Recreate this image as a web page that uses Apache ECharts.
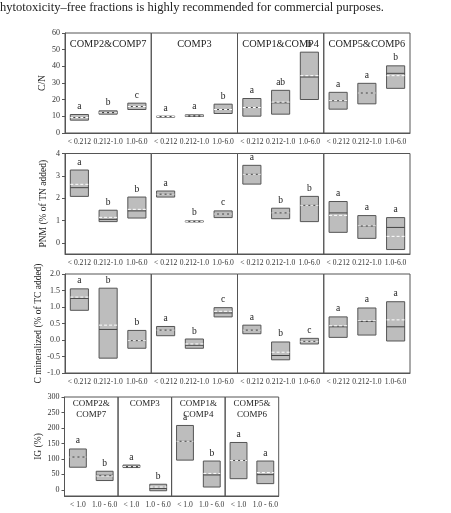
<!DOCTYPE html>
<html>
<head>
<meta charset="utf-8">
<script src="https://cdn.jsdelivr.net/npm/echarts@6/dist/echarts.min.js"></script>
<style>
  html, body { margin: 0; padding: 0; background: #fff; }
  #chart { width: 451px; height: 513px; }
</style>
</head>
<body>
<div id="chart"></div>
<script>
// categories
const groups = ['COMP2&COMP7', 'COMP3', 'COMP1&COMP4', 'COMP5&COMP6'];
const groupsIG = ['COMP2&\nCOMP7', 'COMP3', 'COMP1&\nCOMP4', 'COMP5&\nCOMP6'];
const fractions = ['< 0.212', '0.212-1.0', '1.0-6.0'];
const fractionsIG = ['< 1.0', '1.0 - 6.0'];

// C/N  (per group: lower edge, upper edge, median, mean, letters)
const cnQ1 = [[7.7, 11.3, 14.1], [9.6, 9.9, 11.7], [10.1, 11.3, 20.1], [14.3, 17.5, 26.8]];
const cnQ3 = [[11.1, 13.3, 17.9], [10.1, 10.9, 17.3], [20.7, 25.6, 48.5], [24.4, 29.8, 40.3]];
const cnMed = [[9.3, 12.3, 15.9], [9.9, 10.3, 14.1], [15.3, 18.1, 33.6], [19.3, 24.0, 35.8]];
const cnMean = [[9.3, 12.2, 15.9], [9.9, 10.3, 14.1], [15.3, 18.5, 34.4], [19.4, 24.0, 34.4]];
const cnLet = [['a', 'b', 'c'], ['a', 'a', 'b'], ['a', 'ab', 'b'], ['a', 'a', 'b']];

// PNM (% of TN added)
const pnmQ1 = [[2.08, 0.95, 1.11], [2.05, 0.94, 1.13], [2.63, 1.08, 0.95], [0.47, 0.20, -0.30]];
const pnmQ3 = [[3.26, 1.46, 2.05], [2.32, 0.98, 1.43], [3.47, 1.55, 2.08], [1.85, 1.22, 1.13]];
const pnmMed = [[2.47, 1.05, 1.43], [2.18, 0.96, 1.29], [3.07, 1.34, 1.68], [1.34, 0.75, 0.69]];
const pnmMean = [[2.62, 1.14, 1.50], [2.18, 0.96, 1.29], [3.07, 1.34, 1.68], [1.23, 0.76, 0.29]];
const pnmLet = [['a', 'b', 'b'], ['a', 'b', 'c'], ['a', 'b', 'b'], ['a', 'a', 'a']];

// C mineralized (% of TC added)
const cmQ1 = [[0.90, -0.55, -0.25], [0.13, -0.25, 0.70], [0.19, -0.60, -0.12], [0.08, 0.15, -0.03]];
const cmQ3 = [[1.55, 1.57, 0.29], [0.41, 0.03, 0.98], [0.45, -0.06, 0.05], [0.70, 0.97, 1.16]];
const cmMed = [[1.26, 0.32, -0.02], [0.30, -0.16, 0.82], [0.30, -0.47, -0.04], [0.40, 0.56, 0.40]];
const cmMean = [[1.30, 0.45, -0.02], [0.30, -0.12, 0.87], [0.30, -0.37, -0.04], [0.43, 0.58, 0.61]];
const cmLet = [['a', 'b', 'b'], ['a', 'b', 'c'], ['a', 'b', 'c'], ['a', 'a', 'a']];

// IG (%)
const igQ1 = [[73, 30], [72, -3], [96, 9], [36, 20]];
const igQ3 = [[132, 60], [80, 18], [208, 93], [153, 93]];
const igMed = [[106, 47], [75, 4], [157, 48], [95, 49]];
const igMean = [[106, 45], [75, 9], [157, 53], [95, 56]];
const igLet = [['a', 'b'], ['a', 'b'], ['a', 'b'], ['a', 'a']];

// tick labels
const cnTicks = [0, 10, 20, 30, 40, 50, 60];
const pnmTicks = [0, 1, 2, 3, 4];
const cmTicks = [-1.0, -0.5, 0.0, 0.5, 1.0, 1.5, 2.0];
const igTicks = [0, 50, 100, 150, 200, 250, 300];

const serif = '"Liberation Serif", "DejaVu Serif", serif';
const dark = '#555';

// layout of each row of panels
const rows = [
  { q1: cnQ1, q3: cnQ3, med: cnMed, mean: cnMean, let: cnLet, cats: fractions, ticks: cnTicks,
    min: 0, max: 60, name: 'C/N', gap: 18, top: 33, height: 100, left: 65, w: 86.25, dec: 0 },
  { q1: pnmQ1, q3: pnmQ3, med: pnmMed, mean: pnmMean, let: pnmLet, cats: fractions, ticks: pnmTicks,
    min: -0.5, max: 4, name: 'PNM (% of TN added)', gap: 17, top: 153.5, height: 100.5, left: 65, w: 86.25, dec: 0 },
  { q1: cmQ1, q3: cmQ3, med: cmMed, mean: cmMean, let: cmLet, cats: fractions, ticks: cmTicks,
    min: -1, max: 2, name: 'C mineralized (% of TC added)', gap: 17, top: 274, height: 99, left: 65, w: 86.25, dec: 1 },
  { q1: igQ1, q3: igQ3, med: igMed, mean: igMean, let: igLet, cats: fractionsIG, ticks: igTicks,
    min: -20, max: 300, name: 'IG (%)', gap: 20, top: 397, height: 99, left: 64.5, w: 53.55, dec: 0 }
];

function boxRenderer(letters) {
  return function (params, api) {
    const x = api.value(0);
    const lo = api.coord([x, api.value(1)]);
    const hi = api.coord([x, api.value(2)]);
    const md = api.coord([x, api.value(3)]);
    const mn = api.coord([x, api.value(4)]);
    const w = api.size([1, 0])[0] * 0.63;
    const cx = lo[0];
    return {
      type: 'group',
      children: [
        { type: 'rect', shape: { x: cx - w / 2, y: hi[1], width: w, height: Math.max(lo[1] - hi[1], 1) },
          style: { fill: '#bdbdbd', stroke: dark, lineWidth: 1 } },
        { type: 'line', shape: { x1: cx - w / 2, y1: md[1], x2: cx + w / 2, y2: md[1] },
          style: { stroke: '#444', lineWidth: 1 } },
        { type: 'line', shape: { x1: cx - w / 2, y1: mn[1], x2: cx + w / 2, y2: mn[1] },
          style: { stroke: '#fff', lineWidth: 1, lineDash: [3, 2] } },
        { type: 'text', style: { text: letters[params.dataIndex], x: cx, y: hi[1] - 3,
            align: 'center', verticalAlign: 'bottom', fontSize: 9.5, fontFamily: serif, fill: '#222' } }
      ]
    };
  };
}

const grid = [], xAxis = [], yAxis = [], series = [], texts = [];
rows.forEach((r, ri) => {
  for (let g = 0; g < 4; g++) {
    const idx = grid.length;
    grid.push({ left: r.left + g * r.w, top: r.top, width: r.w, height: r.height,
      show: true, borderColor: dark, borderWidth: 1, backgroundColor: 'transparent' });
    xAxis.push({
      type: 'category', gridIndex: idx, data: r.cats,
      axisLine: { onZero: false, lineStyle: { color: dark } },
      axisTick: { alignWithLabel: true, length: 3, lineStyle: { color: dark } },
      axisLabel: { fontSize: 7.6, color: '#333', margin: 5, fontFamily: serif, interval: 0 },
      splitLine: { show: false }
    });
    const first = g === 0;
    yAxis.push({
      type: 'value', gridIndex: idx, min: r.min, max: r.max,
      show: first,
      name: first ? r.name : '', nameLocation: 'middle', nameGap: r.gap,
      nameTextStyle: { fontSize: 9.5, fontFamily: serif, color: '#222' },
      axisLine: { show: true, lineStyle: { color: dark } },
      axisTick: { show: true, length: 3, customValues: r.ticks, lineStyle: { color: dark } },
      axisLabel: { fontSize: 8, color: '#333', margin: 5, fontFamily: serif, customValues: r.ticks,
        formatter: v => v.toFixed(r.dec) },
      splitLine: { show: false }
    });
    series.push({
      type: 'custom', xAxisIndex: idx, yAxisIndex: idx,
      renderItem: boxRenderer(r.let[g]),
      encode: { x: 0, y: [1, 2] },
      data: r.cats.map((c, i) => [i, r.q1[g][i], r.q3[g][i], r.med[g][i], r.mean[g][i]])
    });
    if (ri === 0) {
      texts.push({ type: 'text', x: r.left + g * r.w + r.w / 2, y: 44,
        style: { text: groups[g], fontSize: 10.3, fontFamily: serif, fill: '#222',
          align: 'center', verticalAlign: 'middle' } });
    }
    if (ri === 3) {
      texts.push({ type: 'text', x: r.left + g * r.w + r.w / 2, y: 398,
        style: { text: groupsIG[g], fontSize: 9, lineHeight: 11, fontFamily: serif, fill: '#222',
          align: 'center', verticalAlign: 'top' } });
    }
  }
});

texts.push({ type: 'text', x: 0, y: 8,
  style: { text: 'hytotoxicity\u2013free fractions is highly recommended for commercial purposes.',
    fontSize: 12.5, fontFamily: serif, fill: '#222', verticalAlign: 'middle' } });

const chart = echarts.init(document.getElementById('chart'));
chart.setOption({
  backgroundColor: '#fff',
  animation: false,
  grid, xAxis, yAxis, series,
  graphic: texts
});
</script>
</body>
</html>
